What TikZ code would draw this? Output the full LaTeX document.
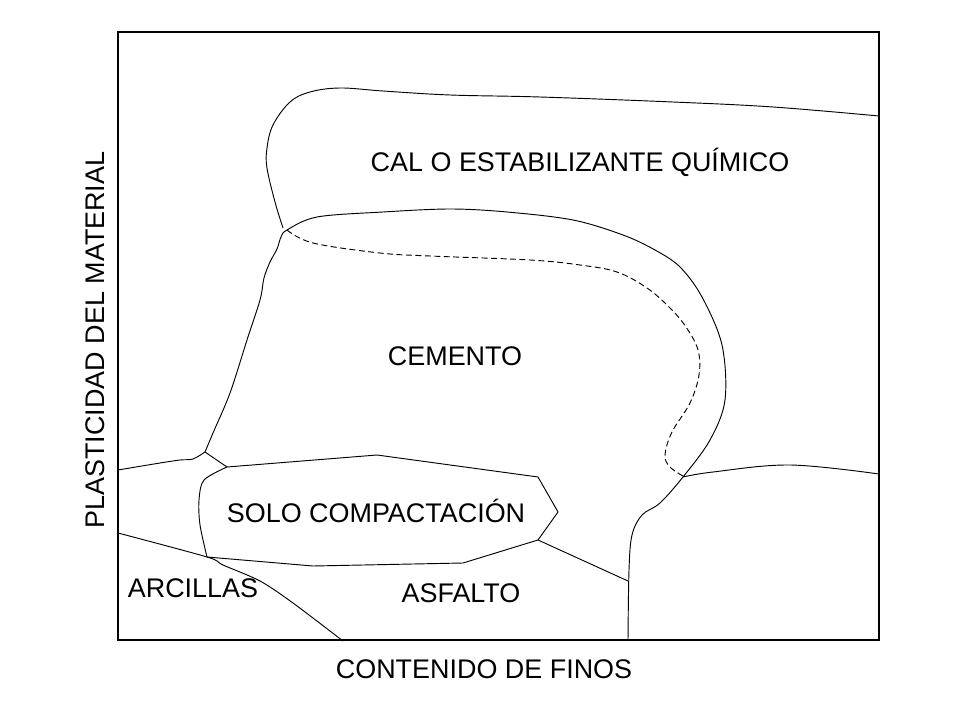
\documentclass[tikz,border=0pt]{standalone}
\usepackage{fontspec}
\setmainfont{Liberation Sans}
\begin{document}
\begin{tikzpicture}[x=0.75pt,y=-0.75pt,
  lbl/.style={font=\fontsize{20.2}{24}\selectfont, inner sep=0pt},
  bnd/.style={line width=0.7pt, line join=round},
  dsh/.style={line width=0.7pt, dash pattern=on 4.5pt off 2.6pt}]
\useasboundingbox (0,0) rectangle (960,720);
% frame
\draw[line width=1pt] (118,32) rectangle (879,640);
% key points
\coordinate (J1) at (205,452);
\coordinate (J2) at (287,230);
\coordinate (J3) at (683,477);
\coordinate (S1) at (227,467);
\coordinate (S2) at (207,557);
\coordinate (S3) at (538,540);
% cal top curve
\draw[bnd] plot[smooth, tension=0.6] coordinates {(283,228) (275,202) (267,168) (267,148) (273,125) (290,102) (310,92) (340,88) (383,91) (450,95) (540,97) (673,102) (773,107) (879,116)};
% cement outline
\draw[bnd] plot[smooth, tension=0.55] coordinates {(205,452) (213,433) (230,393) (247,340) (260,300) (264,278) (270,262) (277,249) (281,237) (287,230) (317,217) (383,212) (450,209) (507,212) (573,220) (623,235) (655,250) (680,267) (702,297) (722,345) (725,400) (710,440) (683,477) (660,503) (642,515) (632,535) (629,570) (628,640)};
% dashed
\draw[dsh] plot[smooth, tension=0.6] coordinates {(287,230) (313,243) (380,253) (430,256) (530,260) (580,265) (617,272) (647,288) (670,308) (686,327) (698,350) (699,375) (690,403) (672,432) (665,455) (670,467) (683,476)};
% left line to junction
\draw[bnd] plot[smooth, tension=0.5] coordinates {(118,470) (160,463) (180,460) (193,459) (J1)};
\draw[bnd] (J1) -- (S1);
% solo compactacion
\draw[bnd] (S1) -- (377,455) -- (538,477) -- (558,512) -- (S3) -- (463,563) -- (313,566) -- (S2);
\draw[bnd] plot[smooth, tension=0.5] coordinates {(S1) (204,480) (199,500) (200,525) (S2)};
% arcillas line
\draw[bnd] plot[smooth, tension=0.5] coordinates {(118,533) (S2) (223,565) (260,581) (293,603) (343,641)};
% asfalto right line
\draw[bnd] (S3) -- (628,581);
% right line
\draw[bnd] plot[smooth, tension=0.6] coordinates {(J3) (713,472) (790,465) (879,474)};
% labels
\node[lbl] (cal) at (580,162) {CAL O ESTABILIZANTE QUÍMICO};
\node[lbl] (cem) at (455,356) {CEMENTO};
\node[lbl] (solo) at (376,511) {SOLO COMPACTACIÓN};
\node[lbl] (arc) at (193,588) {ARCILLAS};
\node[lbl] (asf) at (461,593) {ASFALTO};
\node[lbl] (xlab) at (484,669) {CONTENIDO DE FINOS};
\node[lbl, rotate=90] (ylab) at (95,340) {PLASTICIDAD DEL MATERIAL};
\end{tikzpicture}
\end{document}
